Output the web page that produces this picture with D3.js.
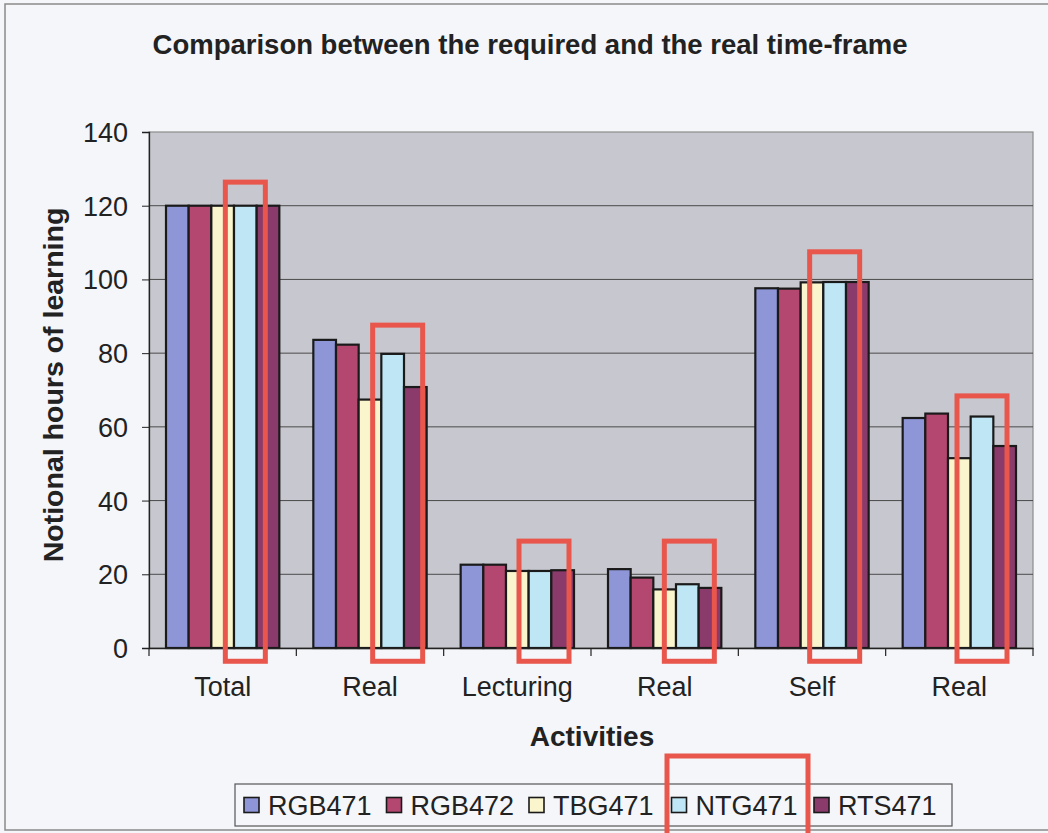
<!DOCTYPE html>
<html>
<head>
<meta charset="utf-8">
<script src="https://cdn.jsdelivr.net/npm/d3@7"></script>
<style>
  html, body { margin: 0; padding: 0; background: #f4f6fa; }
  svg { display: block; }
  text { font-family: "Liberation Sans", Arial, sans-serif; fill: #222; }
</style>
</head>
<body>
<svg id="chart" width="1048" height="833"></svg>
<script>
// ---- data ----
const categories = ["Total", "Real", "Lecturing", "Real ", "Self", "Real  "];
const categoryLabels = ["Total", "Real", "Lecturing", "Real", "Self", "Real"];
const seriesNames = ["RGB471", "RGB472", "TBG471", "NTG471", "RTS471"];
const RGB471 = [120, 83.6, 22.6, 21.4, 97.6, 62.4];
const RGB472 = [120, 82.3, 22.6, 19.1, 97.5, 63.6];
const TBG471 = [120, 67.4, 20.9, 15.9, 99.2, 51.5];
const NTG471 = [120, 79.8, 20.9, 17.3, 99.3, 62.8];
const RTS471 = [120, 70.8, 21.1, 16.3, 99.3, 54.8];
const yTicks = [0, 20, 40, 60, 80, 100, 120, 140];
const titleText = "Comparison between the required and the real time-frame";
const yTitle = "Notional hours of learning";
const xTitle = "Activities";
// hand-drawn highlight boxes: category index, top value, bottom value
const highlightCat = [0, 1, 2, 3, 4, 5];
const highlightTop = [126.4, 87.6, 29.0, 29.0, 107.5, 68.4];
const highlightBottom = [-3.6, -3.6, -3.6, -3.6, -3.6, -3.6];

const seriesValues = [RGB471, RGB472, TBG471, NTG471, RTS471];
const colors = ["#8f96d8", "#b4476f", "#faf5cc", "#bfe6f5", "#8a3b6b"];

// ---- layout ----
const svg = d3.select("#chart");
const plot = { left: 149, right: 1033, top: 132, bottom: 648 };

// outer frame
svg.append("rect").attr("x", 5).attr("y", 4).attr("width", 1060).attr("height", 826)
  .attr("fill", "#f4f6fa").attr("stroke", "#8a8a8a").attr("stroke-width", 1.5);

const x0 = d3.scaleBand().domain(categories).range([plot.left, plot.right])
  .paddingInner(1.5 / 6.5).paddingOuter(0.75 / 6.5);
const x1 = d3.scaleBand().domain(seriesNames).range([0, x0.bandwidth()]).padding(0);
const y = d3.scaleLinear().domain([0, 140]).range([plot.bottom, plot.top]);

// plot area
svg.append("rect").attr("x", plot.left).attr("y", plot.top)
  .attr("width", plot.right - plot.left).attr("height", plot.bottom - plot.top)
  .attr("fill", "#c7c8cf").attr("stroke", "#8c8c8c").attr("stroke-width", 1.2);

// gridlines
svg.append("g").selectAll("line").data(yTicks.filter(t => t > 0 && t < 140)).join("line")
  .attr("x1", plot.left).attr("x2", plot.right)
  .attr("y1", d => y(d)).attr("y2", d => y(d))
  .attr("stroke", "#4a4a4a").attr("stroke-width", 1);

// bars
const rows = categories.map((c, i) => ({ cat: c, vals: seriesNames.map((s, j) => ({ s, j, v: seriesValues[j][i] })) }));
const groups = svg.append("g").selectAll("g").data(rows).join("g")
  .attr("transform", d => `translate(${x0(d.cat)},0)`);
groups.selectAll("rect").data(d => d.vals).join("rect")
  .attr("x", d => x1(d.s)).attr("width", x1.bandwidth())
  .attr("y", d => y(d.v)).attr("height", d => y(0) - y(d.v))
  .attr("fill", d => colors[d.j]).attr("stroke", "#1a1a1a").attr("stroke-width", 2.2);

// y axis
const yAxis = d3.axisLeft(y).tickValues(yTicks).tickSize(7).tickPadding(14).tickFormat(d3.format("d"));
const gy = svg.append("g").attr("transform", `translate(${plot.left},0)`).call(yAxis);
gy.select(".domain").attr("stroke", "#222").attr("stroke-width", 1.3);
gy.selectAll(".tick line").attr("stroke", "#222");
gy.selectAll(".tick text").style("font-size", "27px").attr("fill", "#222").attr("dy", "0.35em");

// x axis
const xAxis = d3.axisBottom(x0).tickSize(0).tickFormat((d, i) => categoryLabels[i]);
const gx = svg.append("g").attr("transform", `translate(0,${plot.bottom})`).call(xAxis);
gx.select(".domain").attr("stroke", "#222").attr("stroke-width", 1.3);
gx.selectAll(".tick text").style("font-size", "27px").attr("fill", "#222")
  .attr("y", 48).attr("dy", 0);
// category separator ticks
const step = x0.step();
svg.append("g").selectAll("line").data(d3.range(categories.length + 1)).join("line")
  .attr("x1", i => plot.left + i * step).attr("x2", i => plot.left + i * step)
  .attr("y1", plot.bottom).attr("y2", plot.bottom + 8)
  .attr("stroke", "#222").attr("stroke-width", 1.2);

// titles
svg.append("text").attr("x", 530).attr("y", 54).attr("text-anchor", "middle")
  .style("font-size", "27.5px").style("font-weight", "bold").attr("fill", "#2a2a2a").text(titleText);
svg.append("text").attr("transform", `translate(63,385) rotate(-90)`)
  .attr("text-anchor", "middle").style("font-size", "28.5px").style("font-weight", "bold")
  .attr("fill", "#2a2a2a").text(yTitle);
svg.append("text").attr("x", 592).attr("y", 746).attr("text-anchor", "middle")
  .style("font-size", "28px").style("font-weight", "bold").attr("fill", "#2a2a2a").text(xTitle);

// legend
const legend = svg.append("g");
legend.append("rect").attr("x", 235).attr("y", 784).attr("width", 717).attr("height", 42)
  .attr("fill", "none").attr("stroke", "#555").attr("stroke-width", 1.2);
const li = legend.selectAll("g").data(seriesNames).join("g")
  .attr("transform", (d, i) => `translate(${244 + i * 142.5},805)`);
li.append("rect").attr("x", 0).attr("y", -7.5).attr("width", 15).attr("height", 15)
  .attr("fill", (d, i) => colors[i]).attr("stroke", "#1a1a1a").attr("stroke-width", 1.6);
li.append("text").attr("x", 24).attr("y", 0).attr("dy", "0.36em")
  .style("font-size", "27px").attr("fill", "#222").text(d => d);

// red highlight boxes
const red = "#e8564c";
const ntgX = i => x0(categories[i]) + x1("NTG471") + x1.bandwidth() / 2;
const boxShift = [0, 5, 4, 2, 0, 0];
const boxW = [40, 50, 50, 50, 50, 50];
svg.append("g").selectAll("rect").data(highlightCat).join("rect")
  .attr("x", (c, k) => ntgX(c) + boxShift[k] - boxW[k] / 2)
  .attr("width", (c, k) => boxW[k])
  .attr("y", (c, k) => y(highlightTop[k]))
  .attr("height", (c, k) => y(highlightBottom[k]) - y(highlightTop[k]))
  .attr("fill", "none").attr("stroke", red).attr("stroke-width", 5);
// highlight around legend entry NTG471
svg.append("rect").attr("x", 667).attr("y", 756).attr("width", 141).attr("height", 90)
  .attr("fill", "none").attr("stroke", red).attr("stroke-width", 5);
</script>
</body>
</html>
